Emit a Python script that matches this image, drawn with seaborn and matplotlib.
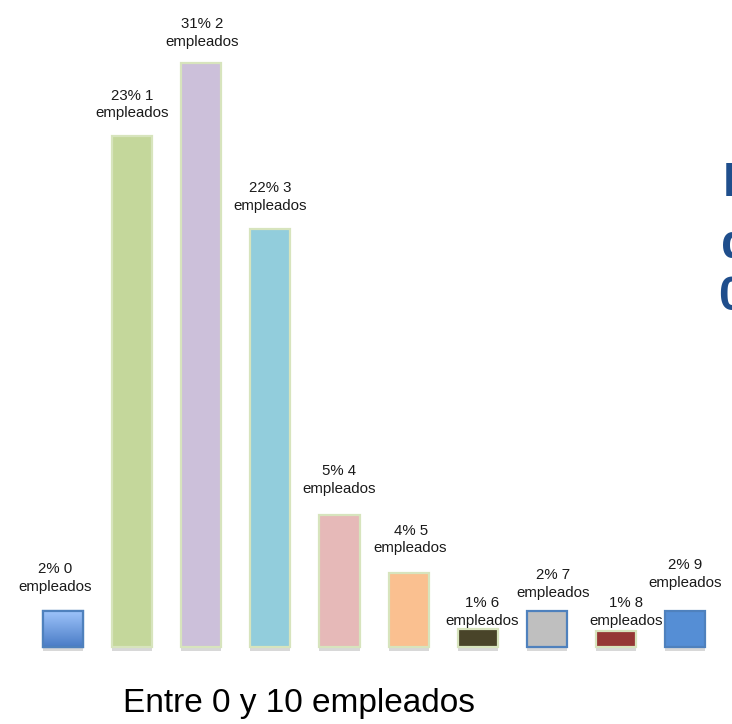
import numpy as np
import matplotlib
matplotlib.use("Agg")
import matplotlib.pyplot as plt
import matplotlib.patheffects as pe
from matplotlib import font_manager
import seaborn as sns

# datos
categorias = ["0", "1", "2", "3", "4", "5", "6", "7", "8", "9"]
valores = [1.9, 27.1, 31.0, 22.2, 7.0, 3.9, 0.96, 1.9, 0.85, 1.9]
porcentajes = ["2%", "23%", "31%", "22%", "5%", "4%", "1%", "2%", "1%", "2%"]
etiquetas = [p + " " + c + "\nempleados" for p, c in zip(porcentajes, categorias)]
titulo = "Entre 0 y 10 empleados"
texto_derecha = ["Número", "de empleados", "0 a 10"]

colores = ["#8FB4EE", "#C4D79B", "#CCC0DA", "#92CDDC", "#E6B9B8",
           "#FAC090", "#494429", "#BFBFBF", "#953735", "#558ED5"]
bordes = ["#4F81BD", "#D7E4BD", "#D7E4BD", "#D7E4BD", "#D7E4BD",
          "#D7E4BD", "#D7E4BD", "#4F81BD", "#D7E4BD", "#4F81BD"]
# desplazamiento de etiquetas en pixeles (x, y)
desp = [(-8, 17), (0, 16), (1, 14), (0, 16), (0, 19),
        (2, 18), (4, 1), (6, 11), (10, 3), (0, 21)]

sns.set_style("white")
nombres = {f.name for f in font_manager.fontManager.ttflist}
fam = ["Liberation Sans", "DejaVu Sans"]
fam_narrow = (["Liberation Sans Narrow"] if "Liberation Sans Narrow" in nombres else []) + fam
plt.rcParams["font.family"] = fam

fig = plt.figure(figsize=(7.32, 7.24), dpi=100)
ax = fig.add_axes([0, 0, 1, 1])
sns.barplot(x=categorias, y=valores, hue=categorias, palette=colores,
            legend=False, width=0.58, ax=ax, saturation=1)

sombra = [pe.SimplePatchShadow(offset=(0, -3), shadow_rgbFace="#7f7f7f", alpha=0.3),
          pe.Normal()]
for i, bar in enumerate(ax.patches):
    bar.set_edgecolor(bordes[i])
    bar.set_linewidth(1.6)
    bar.set_path_effects(sombra)

# degradado de la primera barra
b0 = ax.patches[0]
x0, w0, h0 = b0.get_x(), b0.get_width(), b0.get_height()
grad = np.linspace(0, 1, 100).reshape(-1, 1)
cmap = matplotlib.colors.LinearSegmentedColormap.from_list("g", ["#9DC3FA", "#4A7CC6"])
im = ax.imshow(grad, extent=[x0, x0 + w0, 0, h0], aspect="auto", cmap=cmap,
               origin="upper", zorder=b0.get_zorder() + 0.1)
im.set_clip_path(b0)
ax.add_patch(matplotlib.patches.Rectangle((x0, 0), w0, h0, fill=False,
                                          edgecolor=bordes[0], linewidth=1.6,
                                          zorder=b0.get_zorder() + 0.2))

for i, bar in enumerate(ax.patches[:len(categorias)]):
    cx = bar.get_x() + bar.get_width() / 2
    ax.annotate(etiquetas[i], (cx, bar.get_height()), xytext=desp[i],
                textcoords="offset pixels", ha="center", va="bottom",
                fontsize=10.8, color="#1a1a1a", linespacing=1.35)

ax.set_xlim(-0.912, 9.68)
ax.set_ylim(-4.09, 34.34)
ax.axis("off")

fig.text(0.408, 0.0166, titulo, ha="center", va="baseline",
         fontsize=30 if len(fam_narrow) > 2 else 24, family=fam_narrow, color="black")

for j, (t, xp, yp) in enumerate(zip(texto_derecha, [723, 721, 719], [196, 258, 310])):
    fig.text(xp / 732, 1 - yp / 724, t, ha="left", va="baseline", fontsize=35,
             fontweight="bold", family=fam_narrow, color="#1F4E8C")

fig.savefig("out.png", dpi=100)
